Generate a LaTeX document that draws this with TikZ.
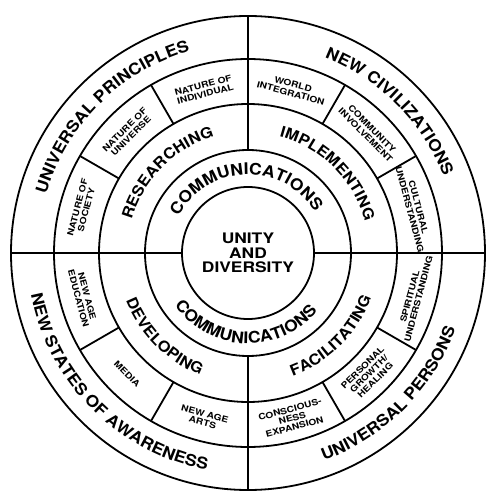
\documentclass[tikz,border=0pt]{standalone}
\usepackage{fontspec}
\setmainfont{TeX Gyre Heros}
\newfontfamily\wheelfont[FakeStretch=1.1]{TeX Gyre Heros}
\newfontfamily\spokefont[FakeStretch=1.2]{TeX Gyre Heros}
\usetikzlibrary{decorations.text}
\newcommand{\outerfont}{\wheelfont\bfseries\fontsize{16}{18}\selectfont}
\newcommand{\ringfont}{\wheelfont\bfseries\fontsize{15}{17}\selectfont}
\newcommand{\commfont}{\wheelfont\bfseries\fontsize{16}{18}\selectfont}
\tikzset{
  ringline/.style={
    draw=black,
    line width=1.8pt,
  },
  arctext/.style={
    decorate,
    decoration={text along path, text align=center, text={#1}},
  },
  segtext/.style={
    align=center,
    inner sep=0pt,
    font=\spokefont\bfseries\fontsize{8.5}{9}\selectfont
  },
  hubtext/.style={
    align=center,
    inner sep=0pt,
    font=\spokefont\bfseries\fontsize{14.5}{14.5}\selectfont
  }
}

\begin{document}
\begin{tikzpicture}
    \useasboundingbox (-248pt,-239pt) rectangle (241pt,253pt);

    % rings
    \draw[ringline] (0,0) circle[radius=66pt];
    \draw[ringline] (0,0) circle[radius=103pt];
    \draw[ringline] (0,0) circle[radius=149pt];
    \draw[ringline] (0,0) circle[radius=194pt];
    \draw[ringline] (0,0) circle[radius=237pt];

    % quadrants
    \draw[ringline] (180:66pt) -- (180:237pt);
    \draw[ringline] (0:66pt)   -- (0:237pt);
    \draw[ringline] (90:103pt) -- (90:237pt);
    \draw[ringline] (270:103pt) -- (270:237pt);

    % segments of the third ring
    \draw[ringline] (30:149pt)  -- (30:194pt);
    \draw[ringline] (60:149pt)  -- (60:194pt);
    \draw[ringline] (120:149pt) -- (120:194pt);
    \draw[ringline] (150:149pt) -- (150:194pt);
    \draw[ringline] (210:149pt) -- (210:194pt);
    \draw[ringline] (240:149pt) -- (240:194pt);
    \draw[ringline] (300:149pt) -- (300:194pt);
    \draw[ringline] (330:149pt) -- (330:194pt);

    % hub
    \node[hubtext] (hub) at (0,0) {UNITY\\AND\\DIVERSITY};

    % communications ring
    \path[arctext=|\commfont|COMMUNICATIONS] (182:78.5pt) arc[start angle=182, end angle=2, radius=78.5pt];
    \path[arctext=|\commfont|COMMUNICATIONS] (178:90.5pt) arc[start angle=178, end angle=358, radius=90.5pt];

    % second ring
    \path[arctext=|\ringfont|RESEARCHING]  (180:121pt) arc[start angle=180, end angle=90, radius=121pt];
    \path[arctext=|\ringfont|IMPLEMENTING] (90:121pt)  arc[start angle=90, end angle=0, radius=121pt];
    \path[arctext=|\ringfont|DEVELOPING]   (180:131pt) arc[start angle=180, end angle=270, radius=131pt];
    \path[arctext=|\ringfont|FACILITATING] (270:131pt) arc[start angle=270, end angle=360, radius=131pt];

    % third ring
    \node[segtext, rotate=15]  (individual) at (105:169pt) {NATURE OF\\INDIVIDUAL};
    \node[segtext, rotate=45]  (universe)   at (135:170pt) {NATURE OF\\UNIVERSE};
    \node[segtext, rotate=75]  (society)    at (165:172pt) {NATURE OF\\SOCIETY};
    \node[segtext, rotate=-15] (world)      at (75:170pt)  {WORLD\\INTEGRATION};
    \node[segtext, rotate=-45] (community)  at (45:171pt)  {COMMUNITY\\INVOLVEMENT};
    \node[segtext, rotate=-75] (cultural)   at (15:172pt)  {CULTURAL\\UNDERSTANDING};
    \node[segtext, rotate=75]  (spiritual)  at (-15:172pt) {SPIRITUAL\\UNDERSTANDING};
    \node[segtext, rotate=45]  (growth)     at (-45:171pt) {PERSONAL\\GROWTH/\\HEALING};
    \node[segtext, rotate=15]  (conscious)  at (-75:171pt) {CONSCIOUS-\\NESS\\EXPANSION};
    \node[segtext, rotate=-75] (education)  at (195:171pt) {NEW AGE\\EDUCATION};
    \node[segtext, rotate=-45] (media)      at (225:171pt) {MEDIA};
    \node[segtext, rotate=-15] (arts)       at (255:171pt) {NEW AGE\\ARTS};

    % outer ring
    \path[arctext=|\outerfont|UNIVERSAL PRINCIPLES]     (180:210pt) arc[start angle=180, end angle=90, radius=210pt];
    \path[arctext=|\outerfont|NEW CIVILIZATIONS]        (90:210pt)  arc[start angle=90, end angle=0, radius=210pt];
    \path[arctext=|\outerfont|NEW STATES OF AWARENESS]  (180:221pt) arc[start angle=180, end angle=270, radius=221pt];
    \path[arctext=|\outerfont|UNIVERSAL PERSONS]        (270:221pt) arc[start angle=270, end angle=360, radius=221pt];
\end{tikzpicture}
\end{document}
